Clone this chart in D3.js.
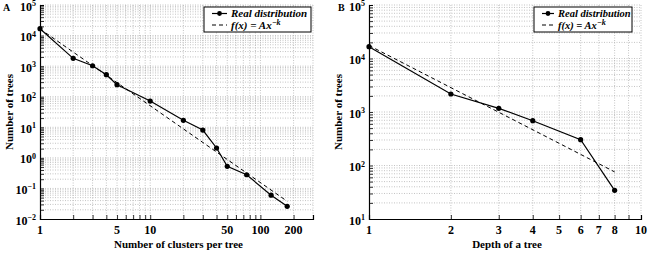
<!DOCTYPE html>
<html><head><meta charset="utf-8">
<script src="https://cdn.jsdelivr.net/npm/d3@7"></script>
<style>
body{margin:0;background:#fff;}
</style></head>
<body><svg id="c" width="648" height="253" font-family="'Liberation Serif', 'Times New Roman', Tinos, 'DejaVu Serif', serif" font-weight="bold"></svg>
<script>
// Panel A: number of clusters per tree
const clustersX = [1, 2, 3, 4, 5, 10, 20, 30, 40, 50, 75, 125, 175];
const clustersY = [16800, 1800, 1030, 525, 247, 72, 16.9, 8.1, 2.1, 0.53, 0.28, 0.06, 0.026];
const fitAX = [1, 175];
const fitAY = [16500, 0.038];
const xTicksA = [1, 5, 10, 50, 100, 200];
// Panel B: depth of a tree
const depthX = [1, 2, 3, 4, 6, 8];
const depthY = [16600, 2170, 1170, 688, 304, 34.4];
const fitBX = [1, 8];
const fitBY = [17500, 76];
const xTicksB = [1, 2, 3, 4, 5, 6, 7, 8, 10];
const legendLabels = ["Real distribution", "f(x) = Ax"];

const svg = d3.select("#c");

function minorValues(lo, hi) {
  const out = [];
  for (let e = Math.floor(Math.log10(lo)); e <= Math.ceil(Math.log10(hi)); e++) {
    for (let m = 1; m <= 9; m++) {
      const v = m * Math.pow(10, e);
      if (v >= lo * 0.9999 && v <= hi * 1.0001) out.push(v);
    }
  }
  return out;
}

function panel(opt) {
  const {left, right, top, bottom, xDom, yDom, xs, ys, fx, fy, xTicks, xLabel, letter, letterX, ylabX, legX} = opt;
  const g = svg.append("g");
  const x = d3.scaleLog().domain(xDom).range([left, right]);
  const y = d3.scaleLog().domain(yDom).range([bottom, top]);
  const xm = minorValues(xDom[0], xDom[1]);
  const ym = minorValues(yDom[0], yDom[1]);
  // grid
  g.append("g").selectAll("line").data(xm.filter(v => v > xDom[0])).join("line")
    .attr("x1", d => x(d)).attr("x2", d => x(d)).attr("y1", top).attr("y2", bottom)
    .attr("stroke", "#aaa").attr("stroke-width", 0.7).attr("stroke-dasharray", "1,1.5");
  g.append("g").selectAll("line").data(ym.filter(v => v > yDom[0])).join("line")
    .attr("y1", d => y(d)).attr("y2", d => y(d)).attr("x1", left).attr("x2", right)
    .attr("stroke", "#aaa").attr("stroke-width", 0.7).attr("stroke-dasharray", "1,1.5");
  // axes
  const xAxis = d3.axisBottom(x).tickValues(xm).tickSize(-4).tickFormat("");
  g.append("g").attr("transform", `translate(0,${bottom})`).call(xAxis)
    .call(s => s.select(".domain").attr("stroke", "#000").attr("stroke-width", 1.2))
    .call(s => s.selectAll(".tick line").attr("stroke", "#000").attr("stroke-width", 0.8));
  const yAxis = d3.axisLeft(y).tickValues(ym).tickSize(-4).tickFormat("");
  g.append("g").attr("transform", `translate(${left},0)`).call(yAxis)
    .call(s => s.select(".domain").attr("stroke", "#000").attr("stroke-width", 1.2))
    .call(s => s.selectAll(".tick line").attr("stroke", "#000").attr("stroke-width", 0.8));
  g.selectAll(".tick text").remove();
  // x tick labels
  g.append("g").selectAll("text").data(xTicks).join("text")
    .attr("x", d => x(d)).attr("y", bottom + 15).attr("text-anchor", "middle")
    .attr("font-size", 12).text(d => d);
  // y tick labels
  const yMaj = [];
  for (let e = Math.round(Math.log10(yDom[0])); e <= Math.round(Math.log10(yDom[1])); e++) yMaj.push(e);
  const yl = g.append("g").selectAll("text").data(yMaj).join("text")
    .attr("x", left - 4).attr("y", d => y(Math.pow(10, d)) + 5.5).attr("text-anchor", "end")
    .attr("font-size", 12);
  yl.append("tspan").text("10");
  yl.append("tspan").attr("dy", -4.5).attr("font-size", 8).text(d => d < 0 ? "\u2212" + (-d) : d);
  // axis titles
  g.append("text").attr("x", (left + right) / 2 + 2).attr("y", 248).attr("text-anchor", "middle")
    .attr("font-size", 11).text(xLabel);
  g.append("text").attr("transform", `translate(${ylabX},${(top + bottom) / 2}) rotate(-90)`)
    .attr("text-anchor", "middle").attr("font-size", 11).text("Number of trees");
  g.append("text").attr("x", letterX).attr("y", 11).attr("font-size", 10).text(letter);
  // fit line
  const line = d3.line().x(d => x(d[0])).y(d => y(d[1]));
  g.append("path").datum(d3.zip(fx, fy)).attr("d", line).attr("fill", "none")
    .attr("stroke", "#000").attr("stroke-width", 1).attr("stroke-dasharray", "4,3");
  // data
  const pts = d3.zip(xs, ys);
  g.append("path").datum(pts).attr("d", line).attr("fill", "none")
    .attr("stroke", "#000").attr("stroke-width", 1.2);
  g.append("g").selectAll("circle").data(pts).join("circle")
    .attr("cx", d => x(d[0])).attr("cy", d => y(d[1])).attr("r", 2.6).attr("fill", "#000");
  // legend
  const lw = opt.legW, lx = legX, ly = 7, lo = opt.legOff, lf = opt.legFont;
  g.append("rect").attr("x", lx).attr("y", ly).attr("width", lw).attr("height", 25)
    .attr("fill", "#fff").attr("stroke", "#000").attr("stroke-width", 1);
  g.append("line").attr("x1", lx + 8).attr("x2", lx + lo - 4).attr("y1", ly + 6.5).attr("y2", ly + 6.5)
    .attr("stroke", "#000").attr("stroke-width", 1.2);
  g.append("circle").attr("cx", lx + (lo + 4) / 2).attr("cy", ly + 6.5).attr("r", 2.4).attr("fill", "#000");
  g.append("line").attr("x1", lx + 8).attr("x2", lx + lo - 4).attr("y1", ly + 18).attr("y2", ly + 18)
    .attr("stroke", "#000").attr("stroke-width", 1).attr("stroke-dasharray", "4,3");
  g.append("text").attr("x", lx + lo).attr("y", ly + 10).attr("font-size", lf)
    .attr("font-style", "italic").text(legendLabels[0]);
  const t2 = g.append("text").attr("x", lx + lo).attr("y", ly + 22).attr("font-size", lf)
    .attr("font-style", "italic");
  t2.append("tspan").text(legendLabels[1]);
  t2.append("tspan").attr("dy", -4).attr("font-size", 8).text("\u2212k");
}

panel({left: 40, right: 313, top: 5, bottom: 219, xDom: [1, 300], yDom: [1e-2, 1e5],
  xs: clustersX, ys: clustersY, fx: fitAX, fy: fitAY, xTicks: xTicksA,
  xLabel: "Number of clusters per tree", letter: "A", letterX: 3, ylabX: 13,
  legX: 204, legW: 107, legOff: 27, legFont: 11});
panel({left: 369, right: 641, top: 5, bottom: 219, xDom: [1, 10], yDom: [10, 1e5],
  xs: depthX, ys: depthY, fx: fitBX, fy: fitBY, xTicks: xTicksB,
  xLabel: "Depth of a tree", letter: "B", letterX: 338, ylabX: 342,
  legX: 534, legW: 98, legOff: 24, legFont: 10.5});
</script></body></html>
